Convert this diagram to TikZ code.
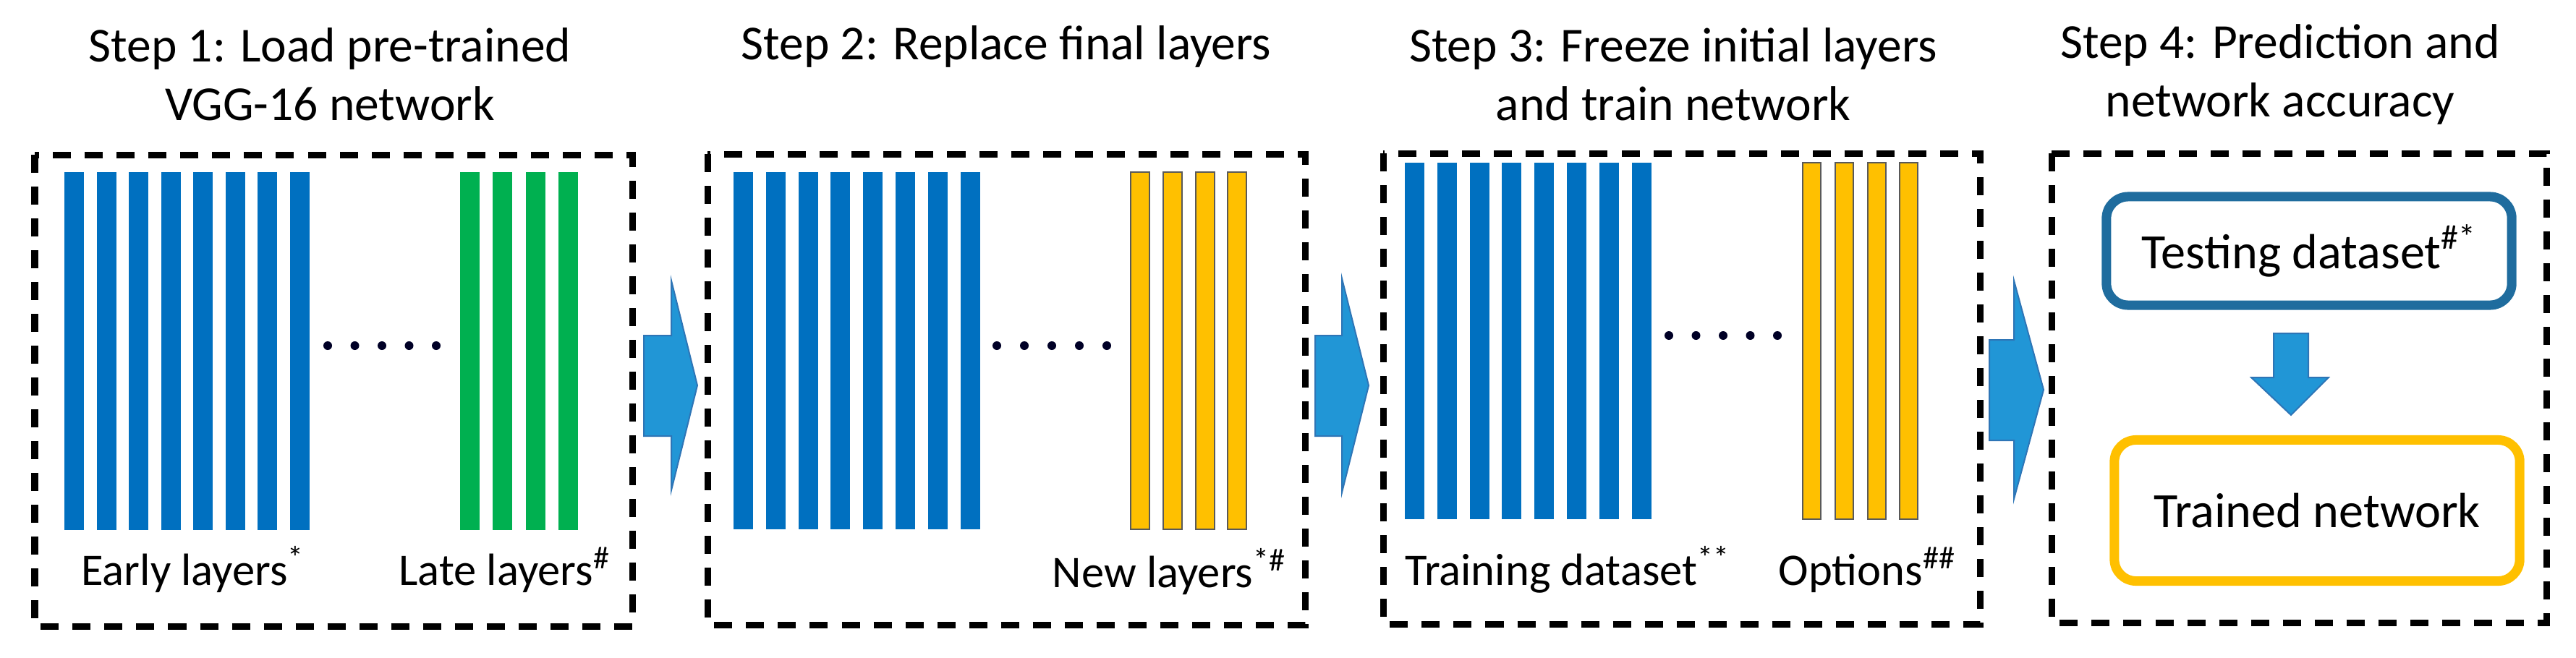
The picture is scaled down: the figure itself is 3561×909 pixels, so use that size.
\documentclass[tikz,border=0pt]{standalone}
\usepackage{fontspec}
\setmainfont{Carlito}
\definecolor{lblue}{RGB}{0,112,192}
\definecolor{lgreen}{RGB}{0,176,80}
\definecolor{lyellow}{RGB}{255,192,0}
\definecolor{arrblue}{RGB}{33,150,214}
\definecolor{arredge}{RGB}{46,117,182}
\definecolor{tblue}{RGB}{31,108,158}
\begin{document}
\begin{tikzpicture}[x=0.01cm,y=-0.01cm,
  panel/.style={draw=black,line width=0.09cm,dash pattern=on 0.25cm off 0.19cm},
  bar/.style={fill=#1,draw=none},
  ybar/.style={fill=lyellow,draw=gray!70!black,line width=0.02cm},
  dot/.style={fill=black!85!blue,draw=none},
  blockarrow/.style={fill=arrblue,draw=arredge,line width=0.02cm},
  title/.style={font=\fontsize{19.2}{23}\selectfont,align=center},
  lab/.style={font=\fontsize{17.8}{20}\selectfont},
  rbox/.style={rounded corners=0.3cm,line width=0.13cm,fill=white,font=\fontsize{19.4}{22}\selectfont}]
\useasboundingbox (0,0) rectangle (3561,909);
% titles
\node[title] (t1) at (456,103) {Step 1: Load pre-trained\\VGG-16 network};
\node[title] (t2) at (1391,64) {Step 2: Replace final layers};
\node[title] (t3) at (2313,103) {Step 3: Freeze initial layers\\and train network};
\node[title] (t4) at (3152,103) {Step 4: Prediction and\\network accuracy};
% panels
\draw[panel] (48,214) rectangle (874,866);
\draw[panel] (978,213) rectangle (1804,864);
\draw[panel] (1912,212) rectangle (2737,863);
\draw[panel] (2836,212) rectangle (3520,861);
% panel 1 bars
\foreach \i in {0,...,7}{\fill[bar=lblue] ({89+44.5*\i},238) rectangle ++(27,495);}
\foreach \i in {0,...,3}{\fill[bar=lgreen] ({636+45.3*\i},238) rectangle ++(27,495);}
\foreach \i in {0,...,4}{\fill[dot] ({453+37.5*\i},478) circle (6);}
\node[lab,anchor=base west] (l1a) at (100,809) {Early layers\textsuperscript{*}};
\node[lab,anchor=base east] (l1b) at (856,809) {Late layers\textsuperscript{\#}};
% panel 2 bars
\foreach \i in {0,...,7}{\fill[bar=lblue] ({1014+44.8*\i},238) rectangle ++(27,494);}
\foreach \i in {0,...,3}{\draw[ybar] ({1563+44.8*\i},238) rectangle ++(26,494);}
\foreach \i in {0,...,4}{\fill[dot] ({1378+38*\i},478) circle (6);}
\node[lab,anchor=base east] (l2) at (1790,812) {New layers\textsuperscript{*\#}};
% panel 3 bars
\foreach \i in {0,...,7}{\fill[bar=lblue] ({1942+44.8*\i},225) rectangle ++(27,493);}
\foreach \i in {0,...,3}{\draw[ybar] ({2492+44.8*\i},225) rectangle ++(25,493);}
\foreach \i in {0,...,4}{\fill[dot] ({2307+37.5*\i},464) circle (6);}
\node[lab,anchor=base west] (l3a) at (1930,809) {Training dataset\textsuperscript{**}};
\node[lab,anchor=base east] (l3b) at (2716,809) {Options\textsuperscript{\#\#}};
% block arrows between panels
\draw[blockarrow] (890,464) -- (928,464) -- (928,388) -- (964,533) -- (928,678) -- (928,603) -- (890,603) -- cycle;
\draw[blockarrow] (1818,464) -- (1855,464) -- (1855,385) -- (1892,533) -- (1855,681) -- (1855,603) -- (1818,603) -- cycle;
\draw[blockarrow] (2750,470) -- (2784,470) -- (2784,388) -- (2825,539) -- (2784,690) -- (2784,609) -- (2750,609) -- cycle;
% panel 4
\node[rbox,draw=tblue,minimum width=5.6cm,minimum height=1.5cm] (test) at (3192,347) {Testing dataset\textsuperscript{\#*}};
\node[rbox,draw=lyellow,minimum width=5.6cm,minimum height=1.95cm] (trained) at (3203,706) {Trained network};
\draw[blockarrow] (3143,461) -- (3191,461) -- (3191,522) -- (3219,522) -- (3167,574) -- (3112,522) -- (3143,522) -- cycle;
\end{tikzpicture}
\end{document}
